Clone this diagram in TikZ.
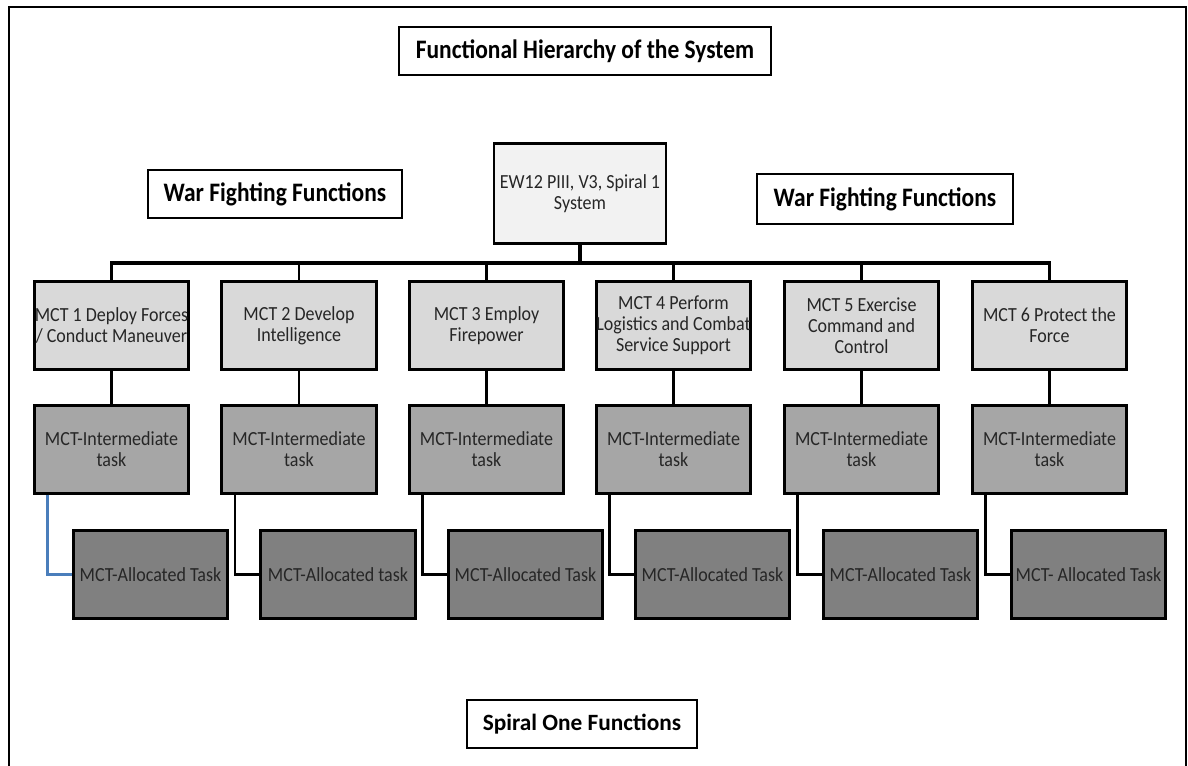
\documentclass[tikz,border=0pt]{standalone}
\usepackage{fontspec}
\setmainfont{Carlito}
\newfontfamily\boxfont[FakeStretch=0.9]{Carlito}
\newfontfamily\headfont[FakeStretch=0.88]{Carlito}
\usetikzlibrary{calc}
\definecolor{topfill}{HTML}{F2F2F2}
\definecolor{mctfill}{HTML}{D9D9D9}
\definecolor{midfill}{HTML}{A6A6A6}
\definecolor{allocfill}{HTML}{808080}
\definecolor{linkblue}{HTML}{4A7EBB}
\begin{document}
\begin{tikzpicture}[x=0.75pt,y=-0.75pt,
  heading/.style={draw=black,line width=2.2pt,fill=white,inner sep=0pt,
    font=\headfont\fontsize{20}{22}\selectfont\bfseries,text=black},
  taskbox/.style={draw=black,line width=2.2pt,inner sep=0pt,align=center,
    minimum width=116pt,minimum height=65.5pt,
    font=\boxfont\fontsize{15}{15.6}\selectfont,text=black!85},
  mctbox/.style={taskbox,fill=mctfill},
  midbox/.style={taskbox,fill=midfill},
  allocbox/.style={taskbox,fill=allocfill},
  link/.style={draw=black,line width=1.9pt},
  bluelink/.style={draw=linkblue,line width=1.9pt}]
\useasboundingbox (0,0) rectangle (1188,765);
\fill[white] (0,0) rectangle (1188,765);

% outer frame, open at the bottom
\draw[line width=2.2pt] (9,766) -- (9,7) -- (1186,7) -- (1186,766);

% headings
\node[heading,minimum width=279pt,minimum height=36pt] (title) at (585,51) {Functional Hierarchy of the System};
\node[heading,minimum width=190.5pt,minimum height=36pt] (wffL) at (275,194) {War Fighting Functions};
\node[heading,minimum width=192pt,minimum height=37.5pt] (wffR) at (885,199) {War Fighting Functions};
\node[heading,minimum width=172.5pt,minimum height=36pt,
  font=\fontsize{17.5}{20}\selectfont\bfseries] (spiral) at (582,724) {Spiral One Functions};

% system box
\node[taskbox,fill=topfill,minimum width=129pt,minimum height=75pt] (sys) at (580,193.5)
  {EW12 PIII, V3, Spiral 1\\System};

% first level: marine corps tasks
\node[mctbox] (m1) at (111.5,325.5) {MCT 1 Deploy Forces\\/ Conduct Maneuver};
\node[mctbox] (m2) at (299,325.5) {MCT 2 Develop\\Intelligence};
\node[mctbox] (m3) at (486.5,325.5) {MCT 3 Employ\\Firepower};
\node[mctbox] (m4) at (673.5,325.5) {MCT 4 Perform\\Logistics and Combat\\Service Support};
\node[mctbox] (m5) at (861.5,325.5) {MCT 5 Exercise\\Command and\\Control};
\node[mctbox] (m6) at (1049.5,325.5) {MCT 6 Protect the\\Force};

% intermediate tasks
\foreach \i/\x in {1/111.5,2/299,3/486.5,4/673.5,5/861.5,6/1049.5}{
  \node[midbox] (i\i) at (\x,449.5) {MCT-Intermediate\\task};
}

% allocated tasks
\node[allocbox] (a1) at (150.5,574.5) {MCT-Allocated Task};
\node[allocbox] (a2) at (338,574.5) {MCT-Allocated task};
\node[allocbox] (a3) at (525.5,574.5) {MCT-Allocated Task};
\node[allocbox] (a4) at (712.5,574.5) {MCT-Allocated Task};
\node[allocbox] (a5) at (900.5,574.5) {MCT-Allocated Task};
\node[allocbox] (a6) at (1088.5,574.5) {MCT- Allocated Task};

% bus from the system box to the six tasks
\coordinate (bus) at (580,263);
\draw[link,line width=2.3pt] (sys.south) -- (bus);
\draw[link,line width=2.3pt] (m1.north) |- (bus) -| (m6.north);
\foreach \i in {2,3,4,5}{
  \draw[link] (m\i.north) -- (m\i.north |- bus);
}

% task to intermediate task
\foreach \i in {1,...,6}{
  \draw[link] (m\i.south) -- (i\i.north);
}

% intermediate task to allocated task
\draw[bluelink] ([xshift=11pt]i1.south west) |- (a1.west);
\foreach \i in {2,...,6}{
  \draw[link] ([xshift=11pt]i\i.south west) |- (a\i.west);
}
\end{tikzpicture}
\end{document}
